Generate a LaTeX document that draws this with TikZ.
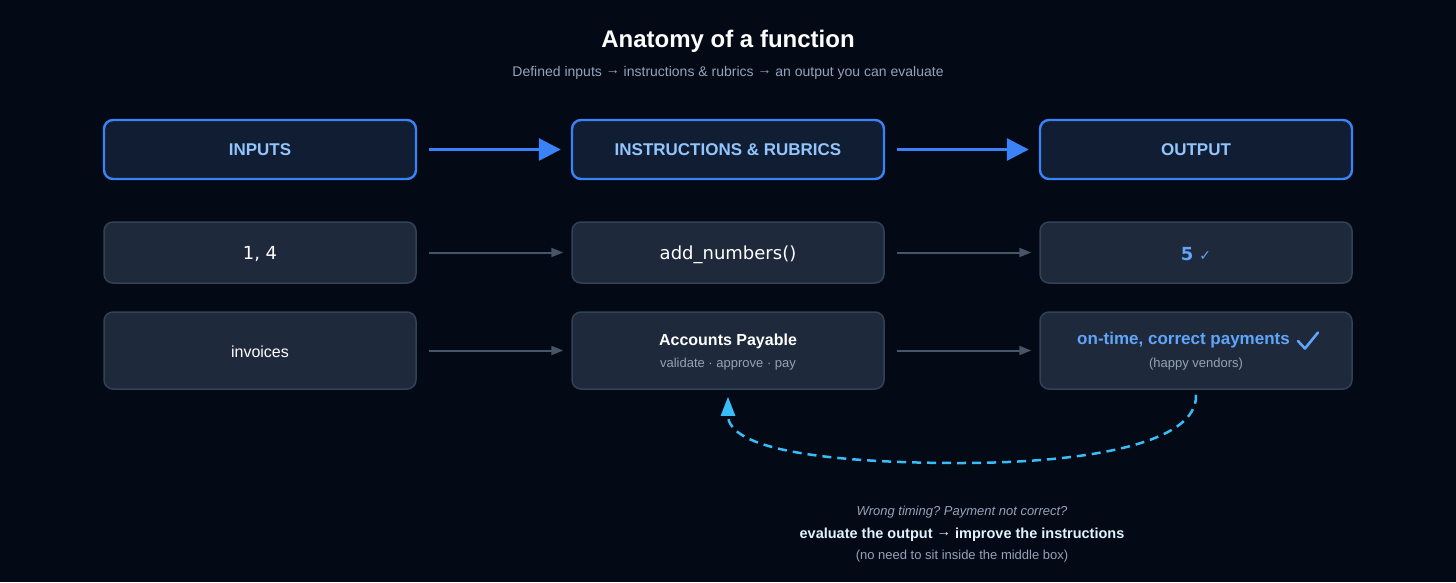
\documentclass[tikz,border=0pt]{standalone}
\usepackage{fontspec}
\setmainfont{Liberation Sans}
\newfontfamily\dejavu{DejaVu Sans}
\usetikzlibrary{arrows.meta}
\newcommand{\myarr}{\raisebox{0.12em}{→}}
\definecolor{bg}{HTML}{040916}
\definecolor{hdrfill}{HTML}{101D33}
\definecolor{hdrline}{HTML}{3B82F6}
\definecolor{hdrtext}{HTML}{93C5FD}
\definecolor{boxfill}{HTML}{1E293B}
\definecolor{boxline}{HTML}{334155}
\definecolor{arrgray}{HTML}{475569}
\definecolor{subgray}{HTML}{94A3B8}
\definecolor{okblue}{HTML}{60A5FA}
\definecolor{loop}{HTML}{38BDF8}
\definecolor{footbold}{HTML}{E0F2FE}
\tikzset{
  hdrbox/.style={draw=hdrline, line width=2.4pt, fill=hdrfill, rounded corners=9pt,
    minimum width=312pt, minimum height=59pt, inner sep=0pt,
    font=\fontsize{17}{20}\selectfont\bfseries, text=hdrtext},
  rowbox/.style={draw=boxline, line width=1.5pt, fill=boxfill, rounded corners=9pt,
    minimum width=312pt, inner sep=0pt, text=white},
  bigarrow/.style={draw=hdrline, line width=3pt, -{Triangle[length=22pt,width=22pt]}},
  smallarrow/.style={draw=arrgray, line width=2pt, -{Triangle[length=12pt,width=9pt]}},
  loopline/.style={draw=loop, line width=2.5pt, dash pattern=on 9pt off 6pt,
    -{Triangle[length=19pt,width=14pt]}},
  checkmark/.style={draw=okblue, line width=2.6pt, line cap=round, line join=round},
  txt/.style={inner sep=0pt, anchor=center}
}
\begin{document}
\frenchspacing
\begin{tikzpicture}[x=1pt,y=-1pt]
\fill[bg] (0,0) rectangle (1456,582);
\useasboundingbox (0,0) rectangle (1456,582);

\node[txt, text=white, font=\fontsize{24}{28}\selectfont\bfseries] (title) at (728,41.5) {Anatomy of a function};
\node[txt, text=subgray, font=\fontsize{14}{16}\selectfont] (sub) at (728,73) {Defined inputs \myarr{} instructions \& rubrics \myarr{} an output you can evaluate};

% header row
\node[hdrbox] (hin) at (260,149.5) {INPUTS};
\node[hdrbox] (hmid) at (728,149.5) {INSTRUCTIONS \& RUBRICS};
\node[hdrbox] (hout) at (1196,149.5) {OUTPUT};
\draw[bigarrow] ([xshift=12pt]hin.east) -- ([xshift=-10pt]hmid.west);
\draw[bigarrow] ([xshift=12pt]hmid.east) -- ([xshift=-10pt]hout.west);

% row 2
\node[rowbox, minimum height=61pt] (r2a) at (260,252.5) {};
\node[txt, text=white, font=\dejavu\fontsize{18}{21}\selectfont] (r2at) at (260,254) {1, 4};
\node[rowbox, minimum height=61pt] (r2b) at (728,252.5) {};
\node[txt, text=white, font=\dejavu\fontsize{18}{21}\selectfont] (r2bt) at (728,254.5) {add\_numbers()};
\node[rowbox, minimum height=61pt] (r2c) at (1196,252.5) {};
\node[txt, text=okblue] (r2ct) at (1196,254) {{\dejavu\fontsize{18}{21}\selectfont\bfseries 5}\hspace{6pt}{\dejavu\fontsize{14}{16}\selectfont ✓}};
\draw[smallarrow] ([xshift=12pt]r2a.east) -- ([xshift=-8pt]r2b.west);
\draw[smallarrow] ([xshift=12pt]r2b.east) -- ([xshift=-8pt]r2c.west);

% row 3
\node[rowbox, minimum height=77pt] (r3a) at (260,350.5) {};
\node[txt, text=white, font=\fontsize{16}{19}\selectfont] (r3at) at (260,352) {invoices};
\node[rowbox, minimum height=77pt] (r3b) at (728,350.5) {};
\node[txt, text=white, font=\fontsize{16}{19}\selectfont\bfseries] (r3bt) at (728,341) {Accounts Payable};
\node[txt, text=subgray, font=\fontsize{13}{15}\selectfont] (r3bs) at (728,364.5) {validate · approve · pay};
\node[rowbox, minimum height=77pt] (r3c) at (1196,350.5) {};
\node[txt, text=okblue, font=\fontsize{17}{20}\selectfont\bfseries] (r3ct) at (1183.5,340) {on-time, correct payments};
\draw[checkmark] ([xshift=8pt,yshift=-1pt]r3ct.east) -- ++(7,7.5) -- ++(13,-16);
\node[txt, text=subgray, font=\fontsize{13}{15}\selectfont] (r3cs) at (1196,364.5) {(happy vendors)};
\draw[smallarrow] ([xshift=12pt]r3a.east) -- ([xshift=-8pt]r3b.west);
\draw[smallarrow] ([xshift=12pt]r3b.east) -- ([xshift=-8pt]r3c.west);

% feedback loop
\coordinate (ls) at ([yshift=-5pt]r3c.south);
\coordinate (le) at ([yshift=-7pt]r3b.south);
\draw[loopline] (ls) .. controls (1198,445) and (1080,463) .. (960,463)
  .. controls (830,463) and (728,450) .. (le);

% footer
\node[txt, text=subgray, font=\fontsize{13}{15}\selectfont\itshape] (f1) at (962,512.5) {Wrong timing? Payment not correct?};
\node[txt, text=footbold, font=\fontsize{14.5}{17}\selectfont\bfseries] (f2) at (962,534.5) {evaluate the output \myarr{} improve the instructions};
\node[txt, text=subgray, font=\fontsize{13}{15}\selectfont] (f3) at (962,556.5) {(no need to sit inside the middle box)};
\end{tikzpicture}
\end{document}
